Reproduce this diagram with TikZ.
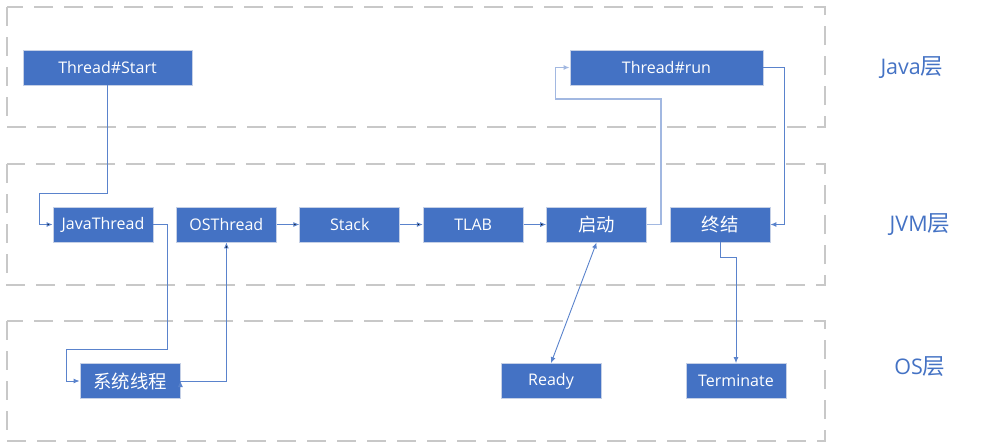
\documentclass[tikz,border=0pt]{standalone}
\usepackage{fontspec}
\setmainfont{Open Sans}
\newfontfamily\cjk[Scale=1.15]{Noto Sans CJK SC}
\newfontfamily\cjklabel[Scale=1.05]{Noto Sans CJK SC}
\usetikzlibrary{arrows.meta}
\definecolor{boxblue}{HTML}{4472C4}
\definecolor{boxline}{HTML}{C5D0E6}
\definecolor{lineblue}{HTML}{5A83CC}
\definecolor{layergrey}{HTML}{C8C8C8}
\begin{document}
\begin{tikzpicture}[x=1pt,y=-1pt,>={Latex[length=6pt,width=5pt]},
  node distance=123.4pt,
  state node/.style={rectangle,fill=boxblue,draw=boxline,line width=0.8pt,
    text=white,font=\fontsize{16}{18}\selectfont,
    minimum width=100pt,minimum height=35pt,inner sep=0pt},
  layer box/.style={draw=layergrey,line width=2.6pt,dash pattern=on 19pt off 11pt},
  layer label/.style={text=boxblue,font=\fontsize{21.5}{24}\selectfont},
  link/.style={->,draw=lineblue,line width=0.9pt}]

  \useasboundingbox (0,0) rectangle (989,445);

  % layers
  \draw[layer box] (7,7) rectangle (825,127);
  \draw[layer box] (7,164) rectangle (825,285);
  \draw[layer box] (7,321) rectangle (825,441);

  \node[layer label] (java) at (912,68) {Java{\cjklabel 层}};
  \node[layer label] (jvm) at (920,225) {JVM{\cjklabel 层}};
  \node[layer label] (os) at (920,367) {OS{\cjklabel 层}};

  % Java
  \node[state node,minimum width=169pt] (start) at (107.5,67.5) {Thread\#Start};
  \node[state node,minimum width=193pt] (run) at (666.5,67.5) {Thread\#run};

  % JVM
  \node[state node] (javathread) at (103,224.5) {JavaThread};
  \node[state node] (osthread) [right of=javathread] {OSThread};
  \node[state node] (stack) [right of=osthread] {Stack};
  \node[state node] (tlab) [right of=stack] {TLAB};
  \node[state node] (launch) [right of=tlab] {\cjk 启动};
  \node[state node] (finish) [right of=launch] {\cjk 终结};

  % OS
  \node[state node] (native) at (130,381) {\cjk 系统线程};
  \node[state node] (ready) at (551,381) {Ready};
  \node[state node] (terminate) at (736,381) {Terminate};

  \path[link]
  (start.south) edge[to path={|- ([xshift=-13pt,yshift=31.5pt]\tikztotarget.west) |- (\tikztotarget.west)}] (javathread)
  (osthread) edge (stack)
  (stack) edge (tlab)
  (tlab) edge (launch)
  (native.east) edge[to path={-| (\tikztotarget.south)}] (osthread);

  \draw[link] (javathread.east) -- ++(14,0) |- ([xshift=-13pt,yshift=32pt]native.west) |- (native.west);
  \draw[link,draw=boxblue!50,line width=1.2pt] (launch.east) -- ++(14,0) |- ([xshift=-14pt,yshift=-31.5pt]run.west) |- (run.west);
  \draw[link] (run.east) -| ([xshift=14pt]finish.east) -- (finish.east);
  \draw[link] (finish.south) -- ++(0,15) -| (terminate.north);
  \draw[link,<->] (ready.north) -- (launch.south);
\end{tikzpicture}
\end{document}
